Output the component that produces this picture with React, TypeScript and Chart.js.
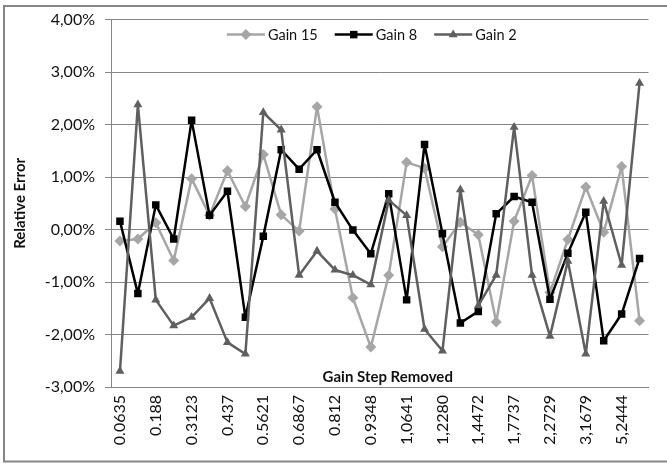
import React, { useEffect, useRef } from 'react';
import { Chart, registerables } from 'chart.js';

Chart.register(...registerables);

// ---- data ----
const tickLabels = [
  '0.0635', '0.188', '0.3123', '0.437', '0.5621', '0.6867', '0.812', '0.9348',
  '1,0641', '1,2280', '1,4472', '1,7737', '2,2729', '3,1679', '5,2444',
];
// a label on every other category
const categories: string[] = tickLabels.flatMap((l) => [l, '']);

const gain15 = [
  -0.22, -0.18, 0.13, -0.59, 0.97, 0.27, 1.12, 0.44, 1.43, 0.28,
  -0.03, 2.34, 0.39, -1.30, -2.24, -0.87, 1.28, 1.17, -0.33, 0.14,
  -0.10, -1.76, 0.16, 1.03, -1.20, -0.19, 0.81, -0.05, 1.20, -1.74,
];
const gain8 = [
  0.16, -1.22, 0.47, -0.18, 2.08, 0.27, 0.73, -1.67, -0.13, 1.52,
  1.15, 1.52, 0.52, -0.01, -0.46, 0.68, -1.34, 1.62, -0.08, -1.78,
  -1.56, 0.30, 0.63, 0.52, -1.33, -0.45, 0.33, -2.12, -1.61, -0.55,
];
const gain2 = [
  -2.70, 2.38, -1.34, -1.83, -1.67, -1.31, -2.15, -2.37, 2.23, 1.90,
  -0.87, -0.41, -0.77, -0.87, -1.05, 0.56, 0.27, -1.90, -2.31, 0.76,
  -1.45, -0.87, 1.95, -0.87, -2.03, -0.60, -2.37, 0.54, -0.68, 2.79,
];
const seriesNames = ['Gain 15', 'Gain 8', 'Gain 2'];
const yMin = -3;
const yMax = 4;
const yStep = 1;
const xTitle = 'Gain Step Removed';
const yTitle = 'Relative Error';

// ---- styles ----
const FONT = 'Lato, "Open Sans", sans-serif';
const GRID = '#868686';
const TEXT = '#111111';
const COLORS = ['#a6a6a6', '#000000', '#5f5f5f'];
const STYLES = ['rectRot', 'rect', 'triangle'];
const RADII = [5.5, 5.3, 5.2];

function drawMarker(ctx: CanvasRenderingContext2D, style: string, x: number, y: number, r: number) {
  ctx.beginPath();
  if (style === 'rectRot') {
    ctx.moveTo(x - r, y);
    ctx.lineTo(x, y - r);
    ctx.lineTo(x + r, y);
    ctx.lineTo(x, y + r);
  } else if (style === 'rect') {
    const s = Math.SQRT1_2 * r;
    ctx.rect(x - s, y - s, 2 * s, 2 * s);
  } else {
    ctx.moveTo(x, y - r);
    ctx.lineTo(x + 0.866 * r, y + 0.5 * r);
    ctx.lineTo(x - 0.866 * r, y + 0.5 * r);
  }
  ctx.closePath();
  ctx.fill();
}

const decorPlugin = {
  id: 'decor',
  beforeDraw(chart: any) {
    const ctx: CanvasRenderingContext2D = chart.ctx;
    ctx.save();
    ctx.fillStyle = '#ffffff';
    ctx.fillRect(0, 0, chart.width, chart.height);
    ctx.strokeStyle = GRID;
    ctx.lineWidth = 2;
    ctx.strokeRect(4, 6, chart.width + 10, chart.height - 8.5);
    ctx.restore();
  },
  afterDraw(chart: any) {
    const ctx: CanvasRenderingContext2D = chart.ctx;
    const a = chart.chartArea;
    const cx = (a.left + a.right) / 2;
    ctx.save();
    // legend
    ctx.font = `14.5px ${FONT}`;
    ctx.textBaseline = 'middle';
    const symW = 38;
    const gapT = 3;
    const gapItem = 17;
    const widths = seriesNames.map((n) => ctx.measureText(n).width);
    const total = widths.reduce((s, w) => s + symW + gapT + w, 0) + gapItem * (seriesNames.length - 1);
    let x = cx - 8 - total / 2;
    const ly = a.top + 15;
    seriesNames.forEach((n, i) => {
      ctx.strokeStyle = COLORS[i];
      ctx.fillStyle = COLORS[i];
      ctx.lineWidth = 2.5;
      ctx.beginPath();
      ctx.moveTo(x, ly);
      ctx.lineTo(x + symW, ly);
      ctx.stroke();
      drawMarker(ctx, STYLES[i], x + symW / 2, ly, RADII[i]);
      ctx.fillStyle = TEXT;
      ctx.textAlign = 'left';
      ctx.fillText(n, x + symW + gapT, ly + 1);
      x += symW + gapT + widths[i] + gapItem;
    });
    // x title (inside plot, above the axis)
    ctx.font = `bold 15px ${FONT}`;
    ctx.fillStyle = TEXT;
    ctx.textAlign = 'center';
    ctx.textBaseline = 'alphabetic';
    ctx.fillText(xTitle, cx + 8, a.bottom - 5);
    // y title
    ctx.translate(20, (a.top + a.bottom) / 2);
    ctx.rotate(-Math.PI / 2);
    ctx.textBaseline = 'middle';
    ctx.fillText(yTitle, 0, 0);
    ctx.restore();
  },
};

export default function App() {
  const ref = useRef<HTMLCanvasElement>(null);
  useEffect(() => {
    if (!ref.current) return;
    const series = [gain15, gain8, gain2];
    const chart = new Chart(ref.current, {
      type: 'line',
      data: {
        labels: categories,
        datasets: series.map((d, i) => ({
          label: seriesNames[i],
          data: d,
          borderColor: COLORS[i],
          backgroundColor: COLORS[i],
          borderWidth: 2.5,
          borderJoinStyle: 'round' as any,
          pointStyle: STYLES[i] as any,
          pointRadius: RADII[i],
          pointBorderWidth: 0,
          pointBackgroundColor: COLORS[i],
          tension: 0,
          order: 3 - i,
        })),
      },
      options: {
        responsive: false,
        animation: false,
        devicePixelRatio: 1,
        layout: { padding: { left: 0, top: 18, right: 15, bottom: 0 } },
        plugins: { legend: { display: false }, tooltip: { enabled: false }, title: { display: false } },
        scales: {
          x: {
            type: 'category',
            offset: true,
            grid: { drawOnChartArea: false, drawTicks: false },
            border: { display: true, color: GRID, width: 1 },
            ticks: {
              autoSkip: false,
              minRotation: 90,
              maxRotation: 90,
              padding: 8,
              color: TEXT,
              font: { family: FONT, size: 16 },
              callback: (_v: any, idx: number) => categories[idx],
            },
            afterFit: (s: any) => { s.height = 77; },
          },
          y: {
            min: yMin,
            max: yMax,
            grid: { color: GRID, lineWidth: 1, tickLength: 6, drawTicks: true },
            border: { display: true, color: GRID, width: 1 },
            ticks: {
              stepSize: yStep,
              padding: 10,
              color: TEXT,
              font: { family: FONT, size: 16 },
              callback: (v: any) => Number(v).toFixed(2).replace('.', ',') + '%',
            },
            afterFit: (s: any) => { s.width = 111; },
          },
        },
      },
      plugins: [decorPlugin],
    });
    return () => chart.destroy();
  }, []);
  return (
    <div style={{ position: 'absolute', left: 0, top: 0, width: 667, height: 464 }}>
      <canvas ref={ref} width={667} height={464} style={{ width: 667, height: 464 }} />
    </div>
  );
}
